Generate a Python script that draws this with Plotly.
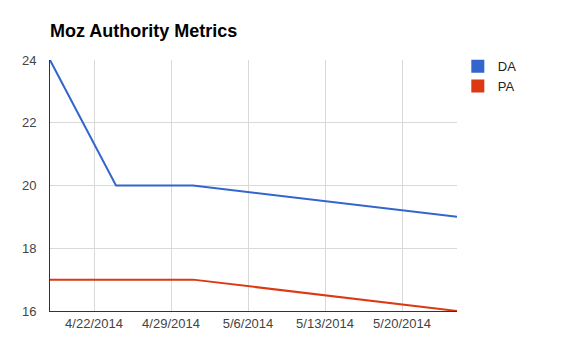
import plotly.graph_objects as go

dates = ["2014-04-18", "2014-04-24", "2014-05-01", "2014-05-25"]
da_values = [24, 20, 20, 19]
pa_values = [17, 17, 17, 16]
series_names = ["DA", "PA"]
series_colors = ["#3366cc", "#dc3912"]
tick_dates = ["2014-04-22", "2014-04-29", "2014-05-06", "2014-05-13", "2014-05-20"]
tick_labels = ["4/22/2014", "4/29/2014", "5/6/2014", "5/13/2014", "5/20/2014"]
y_ticks = [16, 18, 20, 22, 24]
x_range = ["2014-04-18", "2014-05-25"]
y_range = [16, 24]

font_family = "Arial, Liberation Sans, sans-serif"

fig = go.Figure()
for name, vals, color in zip(series_names, [da_values, pa_values], series_colors):
    fig.add_trace(go.Scatter(x=dates, y=vals, mode="lines", name=name,
                             line=dict(color=color, width=2), showlegend=False,
                             cliponaxis=False))
for name, color in zip(series_names, series_colors):
    fig.add_trace(go.Scatter(x=[None], y=[None], mode="markers", name=name,
                             marker=dict(symbol="square", size=13, color=color),
                             showlegend=True))

fig.update_layout(
    width=582, height=356,
    margin=dict(l=50, r=125, t=60, b=45),
    plot_bgcolor="white", paper_bgcolor="white",
    font=dict(family=font_family, size=13, color="#444"),
    title=dict(text="<b>Moz Authority Metrics</b>", x=50/582, xanchor="left",
               xref="container", y=1-31/356, yref="container", yanchor="middle",
               font=dict(family=font_family, size=18, color="#000")),
    legend=dict(x=1.002, xanchor="left", y=1.035, yanchor="top",
                font=dict(family=font_family, size=13, color="#222"),
                bgcolor="rgba(0,0,0,0)", itemwidth=30, tracegroupgap=0),
    showlegend=True,
)
fig.update_xaxes(type="date", range=x_range, tickvals=tick_dates, ticktext=tick_labels,
                 showgrid=True, gridcolor="#d9d9d9", gridwidth=1,
                 showline=True, linecolor="#333333", linewidth=1,
                 ticks="", zeroline=False, tickfont=dict(size=13, color="#444"))
fig.update_yaxes(range=y_range, tickvals=y_ticks, showgrid=True, gridcolor="#d9d9d9",
                 gridwidth=1, showline=True, linecolor="#333333", linewidth=1,
                 ticks="", zeroline=False, ticklabelstandoff=10,
                 tickfont=dict(size=13, color="#444"))

fig.write_html("out.html", config={"displayModeBar": False},
               post_script="document.body.style.margin='0';")
